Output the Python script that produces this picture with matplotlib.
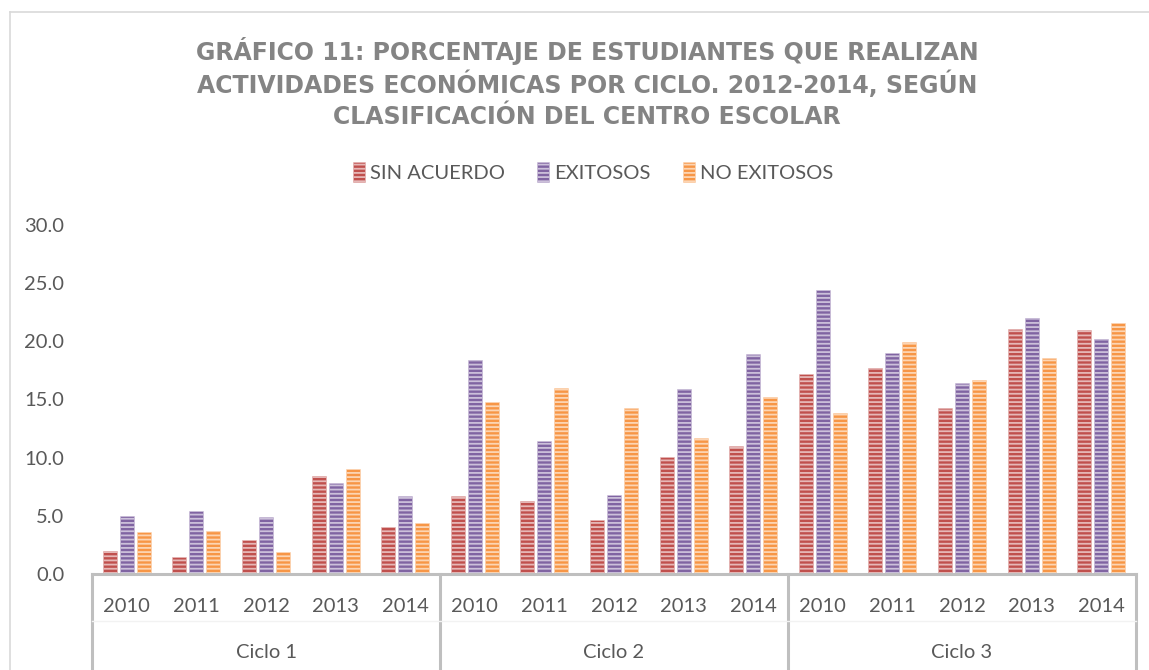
import numpy as np
import matplotlib
matplotlib.use("Agg")
import matplotlib.pyplot as plt
from matplotlib.lines import Line2D

# datos
ciclos = ["Ciclo 1", "Ciclo 2", "Ciclo 3"]
anios = ["2010", "2011", "2012", "2013", "2014"]
series = ["SIN ACUERDO", "EXITOSOS", "NO EXITOSOS"]

sin_acuerdo = [2.0, 1.5, 2.9, 8.4, 4.0,
               6.7, 6.3, 4.6, 10.1, 11.0,
               17.2, 17.7, 14.3, 21.1, 21.0]
exitosos = [5.0, 5.4, 4.9, 7.8, 6.7,
            18.4, 11.4, 6.8, 15.9, 18.9,
            24.4, 19.0, 16.4, 22.0, 20.2]
no_exitosos = [3.6, 3.7, 1.9, 9.0, 4.4,
               14.8, 16.0, 14.3, 11.7, 15.2,
               13.8, 19.9, 16.7, 18.6, 21.6]

colores = ["#C0504D", "#8064A2", "#F79646"]
rayas = ["#E6B8B7", "#CCC0DA", "#FCD5B4"]

plt.rcParams["font.family"] = ["Lato", "DejaVu Sans"]
plt.rcParams["hatch.linewidth"] = 1.3

fig = plt.figure(figsize=(11.49, 6.70), dpi=100)
ax = fig.add_axes([92/1149, 1-574/670, (1136-92)/1149, 349/670])

x = np.arange(len(sin_acuerdo))
datos = [sin_acuerdo, exitosos, no_exitosos]
for i in range(3):
    ax.bar(x + (i-1)*0.245, datos[i], width=0.2, color=colores[i],
           edgecolor=rayas[i], linewidth=0.4, hatch="----", label=series[i])

ax.set_xlim(-0.5, 14.5)
ax.set_ylim(0, 30)
ax.set_yticks(np.arange(0, 31, 5))
ax.set_yticklabels(["%.1f" % v for v in np.arange(0, 31, 5)])
ax.tick_params(axis="y", length=0, pad=20, labelsize=14.5, labelcolor="#595959")
ax.set_xticks([])
for s in ["top", "right", "left"]:
    ax.spines[s].set_visible(False)
ax.spines["bottom"].set_color("#BFBFBF")
ax.spines["bottom"].set_linewidth(2.2)

# eje de categorias en dos niveles
tr = ax.get_xaxis_transform()
for k in range(len(x)):
    ax.text(x[k], -(606-574)/349, anios[k % 5], transform=tr, ha="center",
            va="center", fontsize=14.5, color="#595959")
for j in range(3):
    ax.text(j*5 + 2, -(652-574)/349, ciclos[j], transform=tr, ha="center",
            va="center", fontsize=14.5, color="#595959")
for xs in [-0.5, 4.5, 9.5, 14.5]:
    ax.add_line(Line2D([xs, xs], [0, -0.28], transform=tr, color="#BFBFBF",
                       lw=2.2, clip_on=False))
ax.add_line(Line2D([-0.5, 14.5], [-(621-574)/349]*2, transform=tr,
                   color="#F2F2F2", lw=1, clip_on=False))

# borde del area del grafico
fig.add_artist(Line2D([10/1149, 10/1149], [0, 1-12/670], transform=fig.transFigure,
                      color="#D9D9D9", lw=1.2))
fig.add_artist(Line2D([10/1149, 1], [1-12/670, 1-12/670], transform=fig.transFigure,
                      color="#D9D9D9", lw=1.2))

titulo = ["GRÁFICO 11: PORCENTAJE DE ESTUDIANTES QUE REALIZAN",
          "ACTIVIDADES ECONÓMICAS POR CICLO. 2012-2014, SEGÚN",
          "CLASIFICACIÓN DEL CENTRO ESCOLAR"]
for n, linea in enumerate(titulo):
    fig.text(587/1149, 1-(51+33*n)/670, linea, ha="center", va="center",
             fontsize=17, fontweight="bold", color="#848484",
             family=["DejaVu Sans"])

fig.legend(loc="center", bbox_to_anchor=(593/1149, 1-172/670), ncol=3,
           frameon=False, fontsize=14.5, labelcolor="#595959",
           handlelength=0.6, handleheight=1.1, handletextpad=0.25,
           columnspacing=1.6)

fig.savefig("out.png", dpi=100, facecolor="white")
